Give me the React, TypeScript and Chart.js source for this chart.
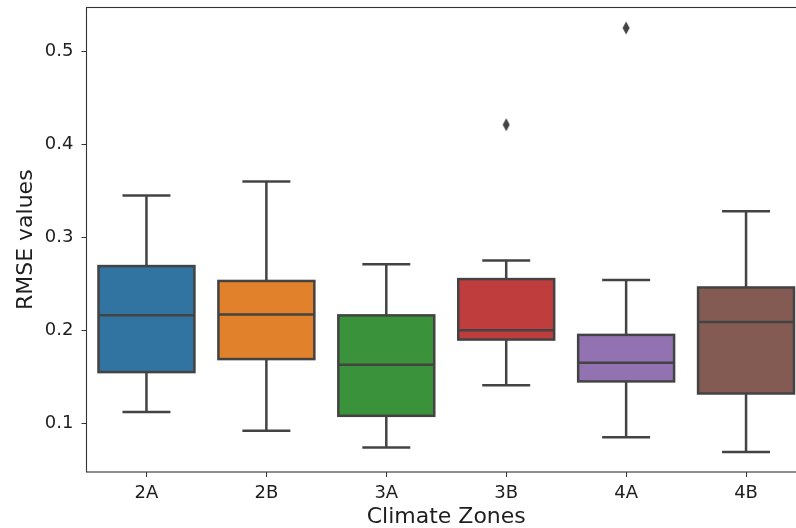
import React, { useEffect, useRef } from 'react';
import { Chart, registerables } from 'chart.js';

Chart.register(...registerables);

// ---- Data ----
const categories = ['2A', '2B', '3A', '3B', '4A', '4B'];
const whiskerLow = [0.112, 0.092, 0.074, 0.141, 0.085, 0.069];
const q1 = [0.155, 0.169, 0.108, 0.19, 0.145, 0.132];
const medians = [0.216, 0.217, 0.163, 0.2, 0.165, 0.209];
const q3 = [0.269, 0.253, 0.216, 0.255, 0.195, 0.246];
const whiskerHigh = [0.345, 0.36, 0.271, 0.275, 0.254, 0.328];
const outliers = [null, null, null, 0.421, 0.525, null];
const yTickValues = [0.1, 0.2, 0.3, 0.4, 0.5];

const boxColors = ['#3274a1', '#e1812c', '#3a923a', '#c03d3e', '#9372b2', '#845b53'];
const LINE = '#434343';
const TEXT = '#1e1e1e';
const FONT = "'DejaVu Sans', sans-serif";

function makeDiamond(): HTMLCanvasElement {
  const c = document.createElement('canvas');
  c.width = 8;
  c.height = 14;
  const ctx = c.getContext('2d')!;
  ctx.fillStyle = LINE;
  ctx.beginPath();
  ctx.moveTo(4, 0.5);
  ctx.lineTo(7.5, 7);
  ctx.lineTo(4, 13.5);
  ctx.lineTo(0.5, 7);
  ctx.closePath();
  ctx.fill();
  return c;
}

const boxPartsPlugin = {
  id: 'boxParts',
  beforeDatasetsDraw(chart: any) {
    const ctx = chart.ctx;
    const y = chart.scales.y;
    const meta = chart.getDatasetMeta(0);
    ctx.save();
    ctx.strokeStyle = LINE;
    ctx.lineWidth = 2.5;
    meta.data.forEach((bar: any, i: number) => {
      const x = bar.x;
      const capHalf = bar.width / 4;
      const pts: [number, number][] = [
        [q3[i], whiskerHigh[i]],
        [q1[i], whiskerLow[i]],
      ];
      pts.forEach(([from, to]) => {
        ctx.beginPath();
        ctx.moveTo(x, y.getPixelForValue(from));
        ctx.lineTo(x, y.getPixelForValue(to));
        ctx.stroke();
        ctx.beginPath();
        ctx.moveTo(x - capHalf, y.getPixelForValue(to));
        ctx.lineTo(x + capHalf, y.getPixelForValue(to));
        ctx.stroke();
      });
    });
    ctx.restore();
  },
  afterDatasetsDraw(chart: any) {
    const ctx = chart.ctx;
    const y = chart.scales.y;
    const meta = chart.getDatasetMeta(0);
    ctx.save();
    ctx.strokeStyle = LINE;
    ctx.lineWidth = 2.5;
    meta.data.forEach((bar: any, i: number) => {
      const half = bar.width / 2;
      const top = y.getPixelForValue(q3[i]);
      const bottom = y.getPixelForValue(q1[i]);
      ctx.strokeRect(bar.x - half, top, half * 2, bottom - top);
      const py = y.getPixelForValue(medians[i]);
      ctx.beginPath();
      ctx.moveTo(bar.x - half, py);
      ctx.lineTo(bar.x + half, py);
      ctx.stroke();
    });
    ctx.restore();
  },
  afterDraw(chart: any) {
    const { left, top, right, bottom } = chart.chartArea;
    const ctx = chart.ctx;
    ctx.save();
    ctx.strokeStyle = '#333333';
    ctx.lineWidth = 1.1;
    ctx.strokeRect(left, top, right - left, bottom - top);
    ctx.restore();
  },
};

export default function App() {
  const canvasRef = useRef<HTMLCanvasElement | null>(null);

  useEffect(() => {
    if (!canvasRef.current) return;
    const diamond = makeDiamond();
    const chart = new Chart(canvasRef.current, {
      type: 'bar',
      data: {
        labels: categories,
        datasets: [
          {
            type: 'bar',
            data: categories.map((_, i) => [q1[i], q3[i]]) as any,
            backgroundColor: boxColors,
            borderWidth: 0,
            barPercentage: 0.8,
            categoryPercentage: 1,
          } as any,
          {
            type: 'line',
            data: outliers as any,
            showLine: false,
            pointStyle: diamond as any,
            pointRadius: 5,
            borderColor: LINE,
            backgroundColor: LINE,
          } as any,
        ],
      },
      options: {
        responsive: false,
        animation: false,
        devicePixelRatio: 1,
        layout: { padding: { left: 0, top: 7.5, right: 6, bottom: 0 } },
        plugins: {
          legend: { display: false },
          tooltip: { enabled: false },
        },
        scales: {
          x: {
            type: 'category',
            offset: true,
            afterFit: (s: any) => {
              s.height = 56;
              s.paddingLeft = 0;
              s.paddingRight = 0;
            },
            grid: {
              display: true,
              drawOnChartArea: false,
              drawTicks: true,
              tickLength: 5,
              color: '#333333',
              offset: false,
            },
            border: { display: false },
            ticks: {
              color: TEXT,
              font: { family: FONT, size: 18 },
              padding: 6,
              maxRotation: 0,
            },
            title: {
              display: true,
              text: 'Climate Zones',
              color: TEXT,
              font: { family: FONT, size: 22, lineHeight: 1 },
              padding: { top: 0, bottom: 0 },
            },
          },
          y: {
            type: 'linear',
            min: 0.0476,
            max: 0.547,
            afterFit: (s: any) => {
              s.width = 86.5;
              s.paddingTop = 0;
              s.paddingBottom = 0;
            },
            afterBuildTicks: (s: any) => {
              s.ticks = yTickValues.map((v) => ({ value: v }));
            },
            grid: {
              display: true,
              drawOnChartArea: false,
              drawTicks: true,
              tickLength: 5,
              color: '#333333',
            },
            border: { display: false },
            ticks: {
              color: TEXT,
              font: { family: FONT, size: 18 },
              padding: 8,
              callback: (v: any) => Number(v).toFixed(1),
            },
            title: {
              display: true,
              text: 'RMSE values',
              color: TEXT,
              font: { family: FONT, size: 22, lineHeight: 1 },
              padding: { top: 15, bottom: 0 },
            },
          },
        },
      },
      plugins: [boxPartsPlugin],
    });
    return () => chart.destroy();
  }, []);

  return (
    <div
      style={{
        position: 'absolute',
        left: 0,
        top: 0,
        width: 796,
        height: 528,
        overflow: 'hidden',
        background: '#ffffff',
      }}
    >
      <canvas ref={canvasRef} width={812} height={528} style={{ display: 'block' }} />
    </div>
  );
}
